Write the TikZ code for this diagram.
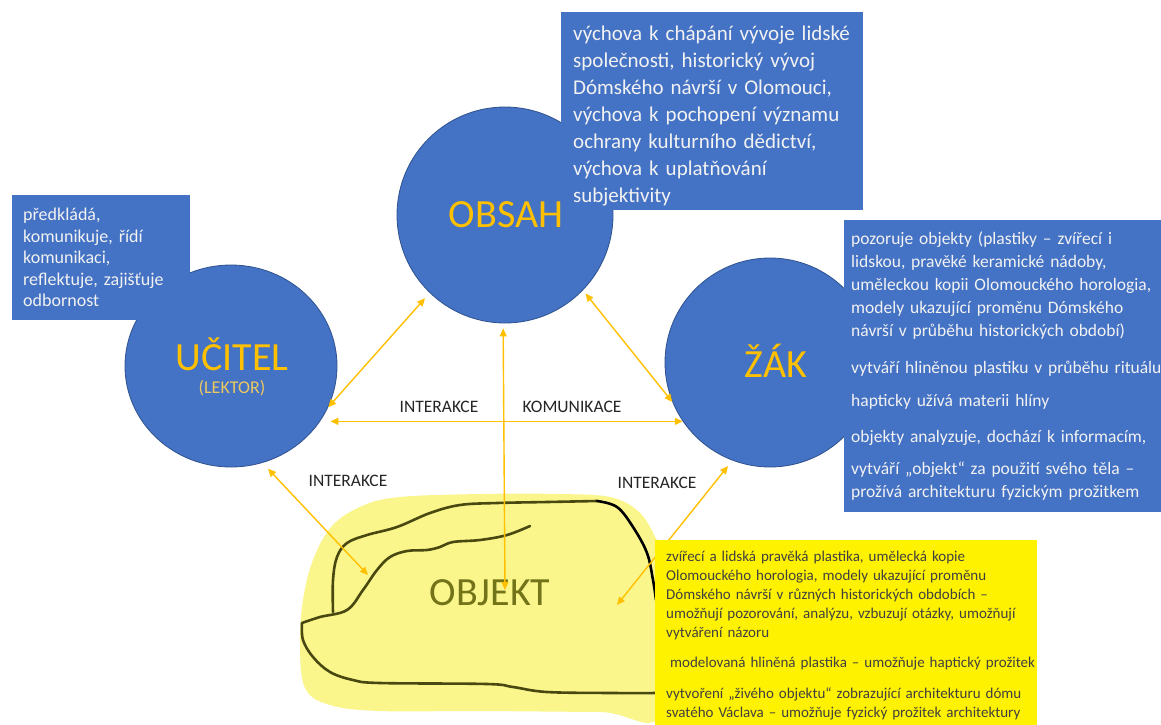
\documentclass[tikz,border=0pt]{standalone}
\usepackage{fontspec}
\setmainfont{Carlito}
\usetikzlibrary{arrows.meta, shapes.geometric}

\definecolor{hubblue}{RGB}{68,114,196}
\definecolor{hubedge}{RGB}{47,82,143}
\definecolor{gold}{RGB}{255,192,0}
\definecolor{lektorgold}{RGB}{236,200,96}
\definecolor{boxtext}{RGB}{242,242,242}
\definecolor{labelgray}{RGB}{38,38,38}
\definecolor{marker}{RGB}{250,246,140}
\definecolor{pen}{RGB}{72,72,16}
\definecolor{objektolive}{RGB}{115,115,25}
\definecolor{notetext}{RGB}{64,64,64}

\begin{document}
\begin{tikzpicture}[
    x=1pt, y=-1pt,
    >={Triangle[length=8pt,width=7pt]},
    hub/.style={
        ellipse,
        draw=hubedge,
        line width=0.8pt,
        fill=hubblue,
        inner sep=0pt
    },
    hubname/.style={text=gold, inner sep=0pt, font=\fontsize{40}{44}\selectfont},
    infobox/.style={
        fill=hubblue,
        anchor=north west,
        align=left,
        text=boxtext,
        inner ysep=0pt
    },
    notebox/.style={
        fill=yellow,
        anchor=north west,
        align=left,
        text=notetext,
        inner xsep=11pt,
        inner ysep=0pt,
        font=\fontsize{15}{19}\selectfont
    },
    link/.style={<->, color=gold, line width=1.4pt},
    tag/.style={text=labelgray, inner sep=0pt, font=\fontsize{17.5}{20}\selectfont}
]
    \useasboundingbox (0,0) rectangle (1161,724);
    \fill[white] (0,0) rectangle (1161,724);

    % highlighted object
    \fill[marker] plot[smooth cycle, tension=0.6] coordinates {
        (300,645) (303,600) (313,560) (332,526) (362,506) (400,497) (480,494)
        (560,494) (610,497) (638,511) (654,535) (662,565) (662,712) (600,712)
        (480,711) (380,711) (330,705) (305,688)};
    \draw[pen, line width=2.6pt, line cap=round] plot[smooth, tension=0.6] coordinates {
        (333,612) (333,580) (337,557) (347,543) (367,535) (397,527) (430,513)
        (460,505) (497,503) (547,502) (597,501)};
    \draw[black, line width=2.6pt, line cap=round] plot[smooth, tension=0.6] coordinates {
        (597,501) (617,507) (633,527) (647,553) (653,580) (656,600)};
    \draw[pen, line width=2.6pt, line cap=round] plot[smooth, tension=0.6] coordinates {
        (302,623) (320,617) (347,610) (363,590) (377,570) (390,557) (407,551)
        (427,550) (440,547) (453,542) (480,540) (507,535) (530,526)};
    \draw[pen, line width=2.6pt, line cap=round] plot[smooth, tension=0.6] coordinates {
        (302,623) (303,640) (313,657) (330,672) (353,680) (380,683) (487,684)
        (513,687) (547,692) (613,693) (660,693)};

    % circles
    \node[hub, minimum width=216pt, minimum height=216pt] (obsah) at (505,215) {};
    \node[hub, minimum width=212pt, minimum height=202pt] (ucitel) at (231,366) {};
    \node[hub, minimum width=210pt, minimum height=209pt] (zak) at (770,362.5) {};

    % blue notes
    \node[infobox, inner xsep=12pt, text width=278pt, minimum height=198pt,
          font=\fontsize{21}{27}\selectfont] (obsahnote) at (561,12) {%
        \rule{0pt}{24pt}výchova k chápání vývoje lidské\\
        společnosti, historický vývoj\\
        Dómského návrší v Olomouci,\\
        výchova k pochopení významu\\
        ochrany kulturního dědictví,\\
        výchova k uplatňování\\
        subjektivity};
    \node[infobox, inner xsep=11pt, text width=156pt, minimum height=125pt,
          font=\fontsize{18}{21.5}\selectfont] (ucitelnote) at (12,195) {%
        předkládá,\\
        komunikuje, řídí\\
        komunikaci,\\
        reflektuje, zajišťuje\\
        odbornost};
    \node[infobox, inner xsep=7pt, text width=316pt, minimum height=292pt,
          font=\fontsize{17.5}{23}\selectfont] (zaknote) at (844,220) {%
        pozoruje objekty (plastiky – zvířecí i\\
        lidskou, pravěké keramické nádoby,\\
        uměleckou kopii Olomouckého horologia,\\
        modely ukazující proměnu Dómského\\
        návrší v průběhu historických období)\\[14pt]
        vytváří hliněnou plastiku v průběhu rituálu\\[10pt]
        hapticky užívá materii hlíny\\[13pt]
        objekty analyzuje, dochází k informacím,\\[9pt]
        vytváří „objekt“ za použití svého těla –\\
        prožívá architekturu fyzickým prožitkem};

    % names
    \node[hubname] (obsahname) at (506,215) {OBSAH};
    \node[hubname] (ucitelname) at (232,354.5) {UČITEL};
    \node[text=lektorgold, inner sep=0pt, font=\fontsize{18}{20}\selectfont] (lektor) at (232,388) {(LEKTOR)};
    \node[hubname] (zakname) at (776,361) {ŽÁK};
    \node[text=objektolive, inner sep=0pt, font=\fontsize{40}{44}\selectfont] (objekt) at (490,592.5) {OBJEKT};

    \coordinate (objleft) at (368,575);
    \coordinate (objmid) at (505,590);
    \coordinate (objright) at (617,605);

    % arrows
    \draw[link, shorten >=7pt] (ucitel.-23) -- (obsah.226);
    \draw[link] ([xshift=-7pt]ucitel.east |- zak.214) -- (zak.214);
    \draw[link, shorten <=4pt] (obsah.-44) -- (zak.202);
    \draw[link, shorten >=5pt] (objmid) -- (obsah.269);
    \draw[link, shorten >=8pt] (objleft) -- (ucitel.288);
    \draw[link, shorten >=7pt] (objright) -- (zak.249);

    \node[tag] (interakcetop) at (439,407) {INTERAKCE};
    \node[tag] (komunikace) at (572,407) {KOMUNIKACE};
    \node[tag] (interakceleft) at (348,481) {INTERAKCE};
    \node[tag] (interakceright) at (657,483) {INTERAKCE};

    % yellow note
    \node[notebox, text width=360pt, minimum height=191pt] (objektnote) at (655,540) {%
        zvířecí a lidská pravěká plastika, umělecká kopie\\
        Olomouckého horologia, modely ukazující proměnu\\
        Dómského návrší v různých historických obdobích –\\
        umožňují pozorování, analýzu, vzbuzují otázky, umožňují\\
        vytváření názoru\\[11pt]
        \mbox{\hspace{4pt}modelovaná hliněná plastika – umožňuje haptický prožitek}\\[12pt]
        vytvoření „živého objektu“ zobrazující architekturu dómu\\
        svatého Václava – umožňuje fyzický prožitek architektury};
\end{tikzpicture}
\end{document}
